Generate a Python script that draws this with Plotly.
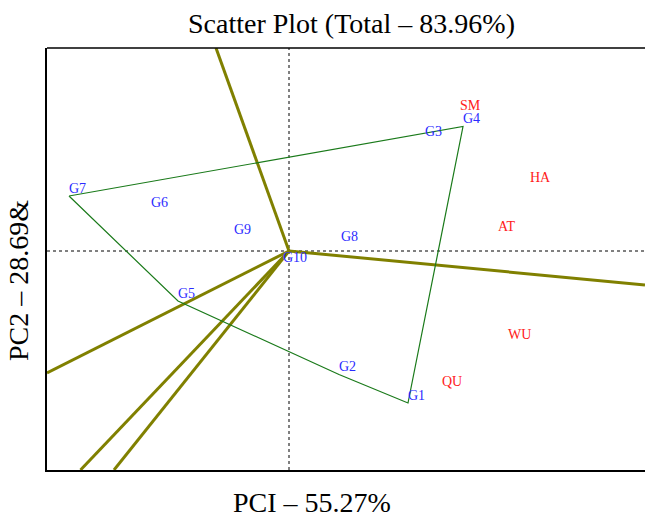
import plotly.graph_objects as go

# Genotype scores (PC1, PC2)
genotypes = ["G1", "G2", "G3", "G4", "G5", "G6", "G7", "G8", "G9", "G10"]
geno_pc1 = [2.38, 1.00, 2.72, 3.48, -2.22, -2.76, -4.40, 1.04, -1.10, -0.12]
geno_pc2 = [-3.04, -2.47, 2.24, 2.49, -1.00, 0.82, 1.10, 0.13, 0.27, -0.28]

# Environment scores (PC1, PC2)
environments = ["SM", "HA", "AT", "WU", "QU"]
env_pc1 = [3.42, 4.82, 4.18, 4.38, 3.06]
env_pc2 = [2.76, 1.31, 0.34, -1.83, -2.76]

# Polygon (convex hull) vertices, in order
hull = ["G7", "G4", "G1", "G2", "G5", "G7"]

# Sector rays (end points; each starts at the origin)
ray_pc1 = [-1.46, 7.12, -4.84, -4.17, -3.50]
ray_pc2 = [4.06, -0.68, -2.44, -4.38, -4.38]

x_range = [-4.84, 7.12]
y_range = [-4.38, 4.06]

fig = go.Figure()

# rays
for rx, ry in zip(ray_pc1, ray_pc2):
    fig.add_trace(go.Scatter(x=[0, rx], y=[0, ry], mode="lines",
                             line=dict(color="#808000", width=3),
                             hoverinfo="skip", showlegend=False))

# polygon
gi = {g: i for i, g in enumerate(genotypes)}
fig.add_trace(go.Scatter(x=[geno_pc1[gi[g]] for g in hull],
                         y=[geno_pc2[gi[g]] for g in hull],
                         mode="lines", line=dict(color="#1a7a1a", width=1.2),
                         hoverinfo="skip", showlegend=False))

# genotype labels
fig.add_trace(go.Scatter(x=geno_pc1, y=geno_pc2, text=genotypes, mode="text",
                         textposition="top right", marker=dict(size=1),
                         textfont=dict(family="Liberation Serif", size=14, color="#2b2bff"),
                         showlegend=False))
# environment labels
fig.add_trace(go.Scatter(x=env_pc1, y=env_pc2, text=environments, mode="text",
                         textposition="top right", marker=dict(size=1),
                         textfont=dict(family="Liberation Serif", size=14, color="#ff2020"),
                         showlegend=False))

# dotted origin lines
fig.add_shape(type="line", xref="x", yref="paper", x0=0, x1=0, y0=0, y1=1,
              line=dict(color="black", width=1, dash="dot"), layer="below")
fig.add_shape(type="line", xref="paper", yref="y", x0=0, x1=1, y0=0, y1=0,
              line=dict(color="black", width=1, dash="dot"), layer="below")
# top frame
fig.add_shape(type="line", xref="paper", yref="paper", x0=0, x1=1, y0=1, y1=1,
              line=dict(color="black", width=1.5))

font_big = dict(family="Liberation Serif", size=28, color="black")
fig.add_annotation(text="Scatter Plot (Total – 83.96%)", xref="paper", yref="paper",
                   x=0.510, y=1.058, xanchor="center", yanchor="middle",
                   showarrow=False, font=font_big)
fig.add_annotation(text="PCI – 55.27%", xref="paper", yref="paper",
                   x=0.4426, y=-0.078, xanchor="center", yanchor="middle",
                   showarrow=False, font=font_big)
fig.add_annotation(text="PC2 – 28.69&", xref="paper", yref="paper",
                   x=-0.0468, y=0.448, xanchor="center", yanchor="middle",
                   textangle=-90, showarrow=False, font=font_big)

fig.update_xaxes(range=x_range, showgrid=False, zeroline=False, showticklabels=False,
                 ticks="", showline=True, linecolor="black", linewidth=2)
fig.update_yaxes(range=y_range, showgrid=False, zeroline=False, showticklabels=False,
                 ticks="", showline=True, linecolor="black", linewidth=2)

fig.update_layout(width=645, height=517, margin=dict(l=47, r=0, t=48, b=47),
                  plot_bgcolor="white", paper_bgcolor="white", showlegend=False)

fig.write_html("out.html", config={"displayModeBar": False},
               post_script="document.body.style.margin='0';document.body.style.overflow='hidden';")
